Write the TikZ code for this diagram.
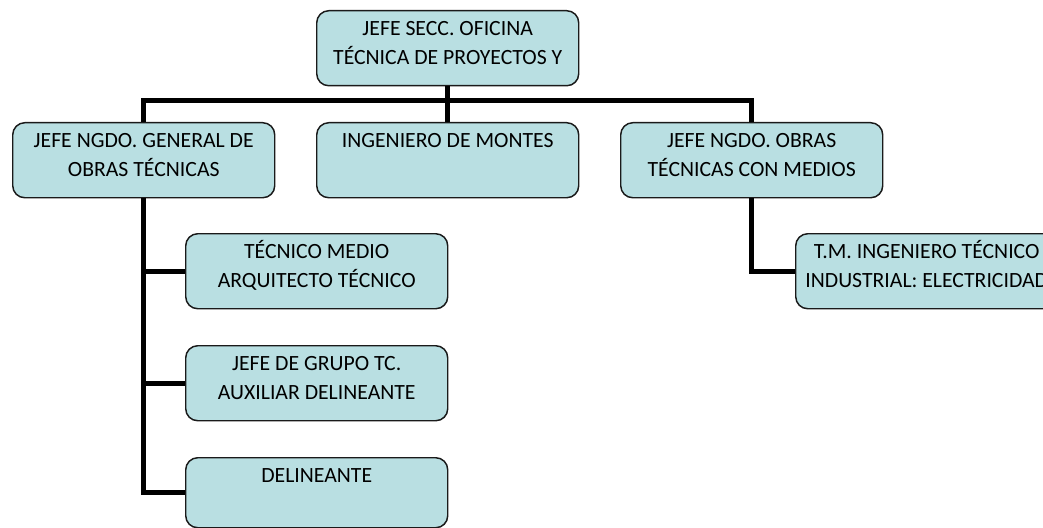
\documentclass[tikz,border=0pt]{standalone}
\usepackage{fontspec}
\setmainfont{Carlito}
\definecolor{boxfill}{HTML}{B9DFE2}
\definecolor{boxline}{HTML}{1A1A1A}
\newcommand{\bxt}[2][56.25pt]{\parbox[c][#1][t]{196.5pt}{\centering\fontsize{16.3}{22}\selectfont\rule{0pt}{18.5pt}#2}}
\begin{document}
\begin{tikzpicture}[x=0.75pt,y=-0.75pt,
  box/.style={draw=boxline, line width=1.1pt, fill=boxfill, rounded corners=9pt, inner sep=0pt, anchor=north west},
  link/.style={line width=3.75pt, draw=black}]
\useasboundingbox (0,0) rectangle (1043,528);
\clip (0,0) rectangle (1043,528);
\coordinate (bus) at (0,101);
\node[box] (top) at (316,10) {\bxt{JEFE SECC. OFICINA\\TÉCNICA DE PROYECTOS Y}};
\node[box] (left) at (12,122) {\bxt{JEFE NGDO. GENERAL DE\\OBRAS TÉCNICAS}};
\node[box] (mid) at (316,122) {\bxt{INGENIERO DE MONTES}};
\node[box] (right) at (620,122) {\bxt{JEFE NGDO. OBRAS\\TÉCNICAS CON MEDIOS}};
\node[box] (c1) at (185,233) {\bxt{TÉCNICO MEDIO\\ARQUITECTO TÉCNICO}};
\node[box] (c2) at (185,345) {\bxt{JEFE DE GRUPO TC.\\AUXILIAR DELINEANTE}};
\node[box] (c3) at (185,457) {\bxt[52.5pt]{DELINEANTE}};
\node[box] (c4) at (795,233) {\bxt{T.M. INGENIERO TÉCNICO\\INDUSTRIAL: ELECTRICIDAD}};
\draw[link] (top.south) -- (mid.north);
\draw[link] (left.north) -- (left.north |- bus) -| (right.north);
\draw[link] (left.south) |- (c1.west);
\draw[link] (left.south) |- (c2.west);
\draw[link] (left.south) |- (c3.west);
\draw[link] (right.south) |- (c4.west);
\end{tikzpicture}
\end{document}
